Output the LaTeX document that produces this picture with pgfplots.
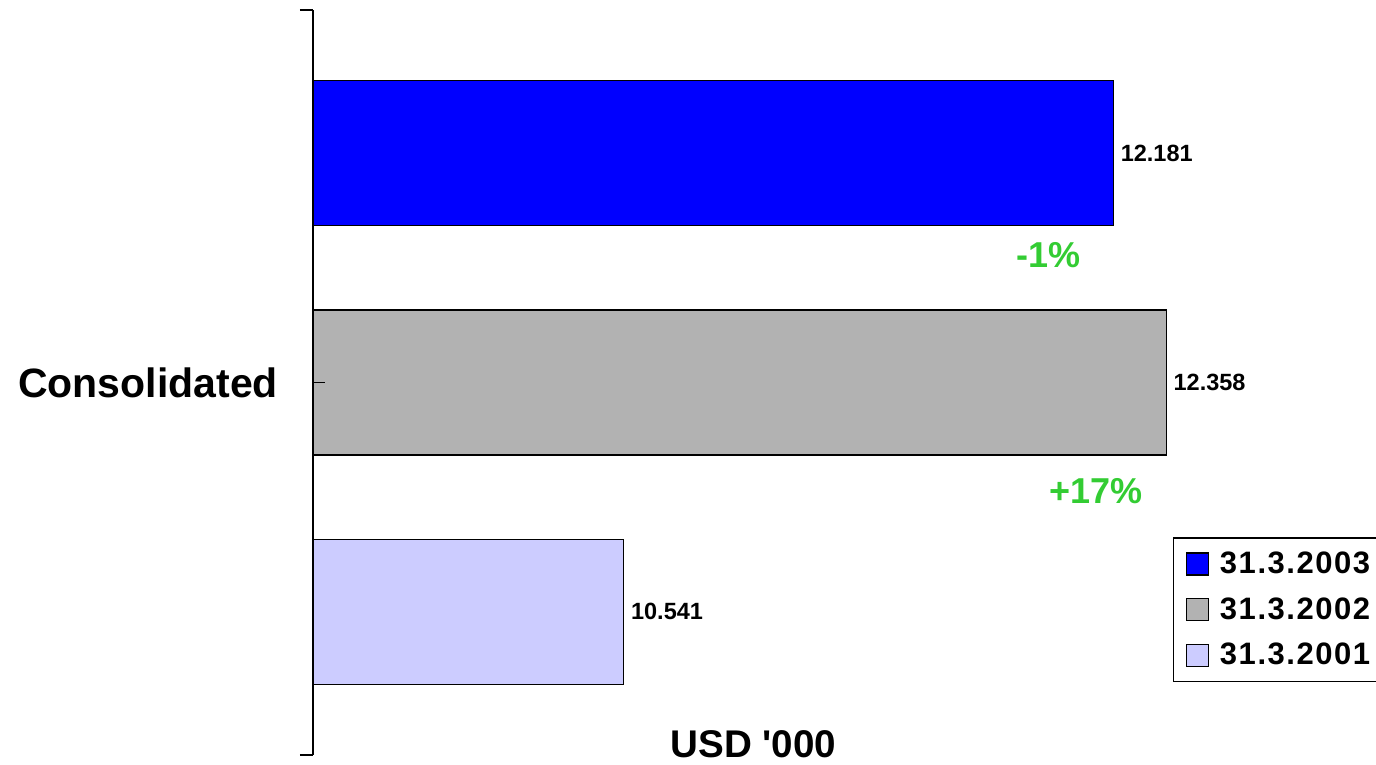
\documentclass[border=0pt]{standalone}
\usepackage{fontspec}
\setmainfont{Liberation Sans}
\newfontfamily\legfont[LetterSpace=5]{Liberation Sans}
\usepackage{pgfplots}
\pgfplotsset{compat=1.18}
\definecolor{bar03}{HTML}{0000FF}
\definecolor{bar02}{HTML}{B2B2B2}
\definecolor{bar01}{HTML}{CCCCFF}
\definecolor{pctgreen}{HTML}{33CC33}

\begin{document}
\begin{tikzpicture}
\begin{axis}[
  scale only axis,
  width=531.5pt, height=372.5pt,
  xmin=9.5, xmax=13.06,
  ymin=-1.625, ymax=1.625,
  axis on top,
  axis y line*=left, axis x line*=bottom,
  axis line style={-, line width=0.9pt},
  x axis line style={draw=none},
  xtick=\empty,
  ytick={-1.625,1.625}, yticklabels={},
  tick align=outside,
  major tick length=6.5pt,
  tick style={line width=0.9pt, black},
  extra y ticks={0},
  extra y tick labels={Consolidated},
  extra y tick style={tick align=inside, major tick length=6pt},
  yticklabel style={font=\bfseries\fontsize{20.5}{24}\selectfont, xshift=-14pt},
  xlabel={USD \textquotesingle000},
  xlabel style={at={(axis description cs:0.4144,-0.004)}, anchor=base,
    font=\bfseries\fontsize{19.3}{23}\selectfont},
  nodes near coords,
  point meta=explicit symbolic,
  every node near coord/.append style={font=\bfseries\fontsize{11.75}{14}\selectfont,
    text=black, anchor=west},
  legend style={at={(axis description cs:0.809,0.2926)}, anchor=north west,
    draw=black, line width=0.75pt,
    font=\legfont\bfseries\fontsize{15.5}{18}\selectfont,
    inner xsep=6pt, inner ysep=5pt, row sep=6.5pt, cells={anchor=west},
    nodes={inner xsep=0pt}},
  legend image code/.code={\draw[#1, line width=0.6pt] (0pt,-5.5pt) rectangle (11pt,5.5pt);
    \path (16.5pt,0pt);},
]
\addplot[xbar, bar width=0.633, bar shift=0pt, fill=bar03, draw=black, line width=0.6pt]
  coordinates {(12.181,1) [12.181]};
\addplot[xbar, bar width=0.633, bar shift=0pt, fill=bar02, draw=black, line width=0.6pt]
  coordinates {(12.358,0) [12.358]};
\addplot[xbar, bar width=0.633, bar shift=0pt, fill=bar01, draw=black, line width=0.6pt]
  coordinates {(10.541,-1) [10.541]};
\legend{31.3.2003, 31.3.2002, 31.3.2001}

\node[font=\bfseries\fontsize{18}{22}\selectfont, text=pctgreen] at (axis cs:11.964,0.555) {-1\%};
\node[font=\bfseries\fontsize{18}{22}\selectfont, text=pctgreen] at (axis cs:12.123,-0.472) {+17\%};
\end{axis}
\pgfresetboundingbox
\useasboundingbox (-156.5pt,-5pt) rectangle (531.5pt,377.5pt);
\end{tikzpicture}
\end{document}
